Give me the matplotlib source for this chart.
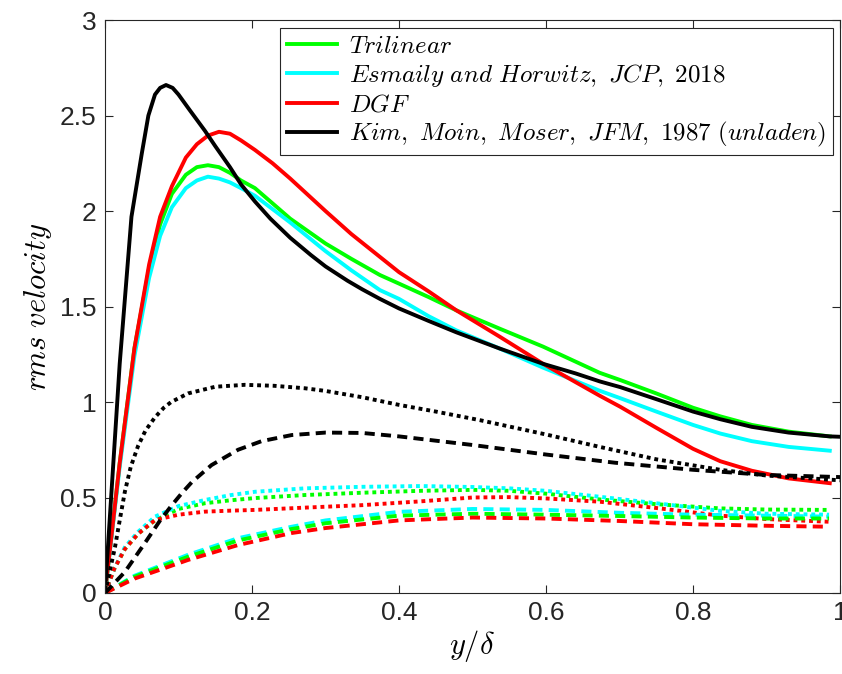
import matplotlib
matplotlib.use("Agg")
import matplotlib.pyplot as plt

plt.rcParams['mathtext.fontset'] = 'cm'
plt.rcParams['font.family'] = ['Liberation Sans', 'DejaVu Sans']

# streamwise (solid) profiles
x_kim = [0, 0.01, 0.02, 0.036, 0.05, 0.059, 0.068, 0.075, 0.083, 0.092, 0.1, 0.115, 0.136,
         0.15, 0.17, 0.185, 0.204, 0.225, 0.252, 0.28, 0.3, 0.33, 0.35, 0.374, 0.4, 0.44,
         0.478, 0.537, 0.596, 0.64, 0.673, 0.701, 0.75, 0.8, 0.837, 0.88, 0.93, 0.986, 1.0]
u_kim = [0, 0.6, 1.2, 1.97, 2.30, 2.50, 2.61, 2.645, 2.66, 2.645, 2.61, 2.53, 2.42,
         2.34, 2.23, 2.14, 2.05, 1.96, 1.86, 1.77, 1.71, 1.635, 1.59, 1.54, 1.49, 1.425,
         1.365, 1.28, 1.20, 1.15, 1.108, 1.078, 1.015, 0.95, 0.91, 0.87, 0.84, 0.82, 0.818]

x_col = [0, 0.02, 0.04, 0.06, 0.075, 0.091, 0.11, 0.125, 0.14, 0.155, 0.17, 0.185, 0.204,
         0.228, 0.252, 0.3, 0.335, 0.374, 0.4, 0.44, 0.478, 0.537, 0.596, 0.673, 0.701,
         0.75, 0.8, 0.837, 0.88, 0.93, 0.986]
u_tri = [0, 0.68, 1.28, 1.70, 1.93, 2.09, 2.19, 2.23, 2.24, 2.23, 2.20, 2.16, 2.12,
         2.04, 1.96, 1.83, 1.75, 1.665, 1.62, 1.55, 1.48, 1.384, 1.29, 1.153, 1.115,
         1.045, 0.97, 0.925, 0.88, 0.845, 0.82]
u_esm = [0, 0.66, 1.24, 1.65, 1.87, 2.02, 2.12, 2.16, 2.18, 2.17, 2.15, 2.12, 2.08,
         2.01, 1.94, 1.79, 1.69, 1.586, 1.54, 1.45, 1.375, 1.28, 1.18, 1.059, 1.02,
         0.95, 0.88, 0.835, 0.795, 0.765, 0.745]
u_dgf = [0, 0.68, 1.28, 1.72, 1.97, 2.13, 2.28, 2.35, 2.395, 2.415, 2.405, 2.37, 2.32,
         2.25, 2.17, 2.0, 1.88, 1.76, 1.68, 1.58, 1.48, 1.342, 1.20, 1.033, 0.975,
         0.865, 0.755, 0.69, 0.64, 0.60, 0.575]

# dotted profiles
x_dot = [0, 0.013, 0.027, 0.045, 0.068, 0.1, 0.136, 0.17, 0.204, 0.272, 0.35, 0.43,
         0.5, 0.55, 0.6, 0.673, 0.75, 0.837, 0.9, 0.985]
w_tri = [0, 0.13, 0.23, 0.31, 0.38, 0.44, 0.47, 0.485, 0.497, 0.513, 0.525, 0.535,
         0.54, 0.535, 0.52, 0.49, 0.465, 0.443, 0.437, 0.435]
w_esm = [0, 0.13, 0.24, 0.32, 0.40, 0.455, 0.487, 0.512, 0.53, 0.548, 0.556, 0.56,
         0.555, 0.548, 0.535, 0.504, 0.47, 0.43, 0.415, 0.41]
w_dgf = [0, 0.13, 0.23, 0.31, 0.382, 0.41, 0.426, 0.431, 0.435, 0.447, 0.46, 0.48,
         0.50, 0.502, 0.495, 0.478, 0.445, 0.405, 0.387, 0.373]
x_kdot = [0, 0.0136, 0.02, 0.027, 0.035, 0.045, 0.055, 0.068, 0.08, 0.09, 0.113, 0.15,
          0.19, 0.23, 0.272, 0.3, 0.35, 0.4, 0.45, 0.51, 0.6, 0.673, 0.75, 0.837, 0.9, 1.0]
w_kim = [0, 0.24, 0.38, 0.53, 0.66, 0.77, 0.85, 0.92, 0.97, 1.0, 1.045, 1.08,
         1.09, 1.085, 1.072, 1.058, 1.025, 0.985, 0.95, 0.905, 0.83, 0.765, 0.70, 0.645,
         0.615, 0.59]

# dashed profiles
x_dash = [0, 0.04, 0.113, 0.181, 0.254, 0.3, 0.4, 0.5, 0.6, 0.7, 0.8, 0.9, 0.985]
v_tri = [0, 0.085, 0.19, 0.275, 0.335, 0.365, 0.405, 0.415, 0.41, 0.403, 0.395, 0.39, 0.39]
v_esm = [0, 0.09, 0.20, 0.287, 0.347, 0.38, 0.425, 0.44, 0.435, 0.42, 0.41, 0.405, 0.40]
v_dgf = [0, 0.075, 0.173, 0.251, 0.314, 0.34, 0.38, 0.395, 0.39, 0.377, 0.36, 0.352, 0.347]
x_kdash = [0, 0.027, 0.054, 0.075, 0.091, 0.105, 0.118, 0.145, 0.181, 0.213, 0.254, 0.3,
           0.35, 0.4, 0.5, 0.6, 0.694, 0.8, 0.9, 1.0]
v_kim = [0, 0.11, 0.26, 0.38, 0.46, 0.525, 0.58, 0.67, 0.75, 0.795, 0.827, 0.84,
         0.838, 0.82, 0.775, 0.725, 0.682, 0.645, 0.618, 0.607]

labels = [r'$Trilinear$',
          r'$Esmaily\ and\ Horwitz,\ JCP,\ 2018$',
          r'$DGF$',
          r'$Kim,\ Moin,\ Moser,\ JFM,\ 1987\ (unladen)$']
colors = ['#00ff00', '#00ffff', '#ff0000', '#000000']

fig = plt.figure(figsize=(8.42, 6.74), dpi=100)
ax = fig.add_axes([0.1247, 0.1202, 0.873, 0.850])

lw = 2.8
dot = (0, (1, 1))
dash = (0, (2.6, 1.6))

ax.plot(x_col, u_tri, color=colors[0], lw=lw, label=labels[0])
ax.plot(x_col, u_esm, color=colors[1], lw=lw, label=labels[1])
ax.plot(x_col, u_dgf, color=colors[2], lw=lw, label=labels[2])
ax.plot(x_kim, u_kim, color=colors[3], lw=lw, label=labels[3])

for w, c in zip([w_tri, w_esm, w_dgf], colors[:3]):
    ax.plot(x_dot, w, color=c, lw=lw, linestyle=dot)
ax.plot(x_kdot, w_kim, color=colors[3], lw=lw, linestyle=dot)

for v, c in zip([v_esm, v_tri, v_dgf], [colors[1], colors[0], colors[2]]):
    ax.plot(x_dash, v, color=c, lw=lw, linestyle=dash)
ax.plot(x_kdash, v_kim, color=colors[3], lw=lw, linestyle=dash)

ax.set_xlim(0, 1)
ax.set_ylim(0, 3)
ax.set_xticks([0, 0.2, 0.4, 0.6, 0.8, 1])
ax.set_xticklabels(['0', '0.2', '0.4', '0.6', '0.8', '1'])
ax.set_yticks([0, 0.5, 1, 1.5, 2, 2.5, 3])
ax.set_yticklabels(['0', '0.5', '1', '1.5', '2', '2.5', '3'])
ax.tick_params(direction='in', length=6, width=0.8, labelsize=19, colors='#262626',
               top=True, right=True, pad=6)
for s in ax.spines.values():
    s.set_color('#262626')
    s.set_linewidth(0.8)

ax.set_xlabel(r'$y/\delta$', fontsize=22, labelpad=2)
ax.set_ylabel(r'$rms\ velocity$', fontsize=22, labelpad=4)

leg = ax.legend(loc='upper right', fontsize=18, fancybox=False, framealpha=1,
                edgecolor='#262626', handlelength=2.0, borderaxespad=0.3,
                labelspacing=0.15, handletextpad=0.5, borderpad=0.25)
leg.get_frame().set_linewidth(0.8)

fig.savefig('out.png', dpi=100)
